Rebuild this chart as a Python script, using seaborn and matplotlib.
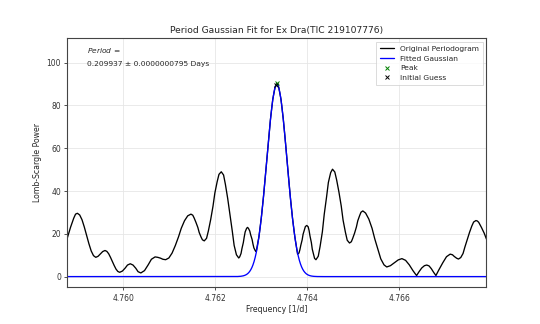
import numpy as np
import pandas as pd
import matplotlib
matplotlib.use("Agg")
import matplotlib.pyplot as plt
import seaborn as sns

# ---- data ----
freq = [
    4.75878, 4.75885, 4.75892, 4.75900, 4.75910, 4.75920, 4.75930, 4.75940,
    4.75945, 4.75950, 4.75955, 4.75960, 4.75968, 4.75976, 4.75984, 4.75992,
    4.75998, 4.76004, 4.76009, 4.76015, 4.76021, 4.76027, 4.76032, 4.76038,
    4.76046, 4.76054, 4.76061, 4.76069, 4.76075, 4.76081, 4.76086, 4.76092,
    4.76106, 4.76120, 4.76133, 4.76147, 4.76154, 4.76162, 4.76169, 4.76176,
    4.76185, 4.76195, 4.76204, 4.76213, 4.76222, 4.76232, 4.76241, 4.76251,
    4.76256, 4.76261, 4.76265, 4.76270, 4.76275, 4.76280, 4.76284, 4.76289,
    4.76295, 4.76300, 4.76305, 4.76310, 4.76315, 4.76320, 4.76325, 4.76330,
    4.76334, 4.76338, 4.76343, 4.76348, 4.76353, 4.76358, 4.76363, 4.76368,
    4.76373, 4.76379, 4.76384, 4.76389, 4.76394, 4.76399, 4.76404, 4.76409,
    4.76414, 4.76419, 4.76428, 4.76437, 4.76446, 4.76455, 4.76464, 4.76474,
    4.76483, 4.76492, 4.76499, 4.76507, 4.76514, 4.76521, 4.76534, 4.76547,
    4.76560, 4.76573, 4.76581, 4.76590, 4.76598, 4.76606, 4.76614, 4.76622,
    4.76630, 4.76635, 4.76638, 4.76643, 4.76649, 4.76655, 4.76660, 4.76665,
    4.76670, 4.76675, 4.76680, 4.76686, 4.76695, 4.76703, 4.76711, 4.76716,
    4.76720, 4.76725, 4.76729, 4.76739, 4.76748, 4.76758, 4.76767, 4.76773,
    4.76779, 4.76785, 4.76790,
]
power = [
    18.0, 23.0, 27.3, 29.6, 26.6, 19.3, 12.0, 9.0,
    9.5, 10.6, 11.7, 12.2, 10.7, 7.1, 3.5, 2.0,
    2.6, 4.0, 5.4, 6.0, 5.4, 3.9, 2.3, 1.7,
    2.8, 5.5, 8.1, 9.2, 9.0, 8.6, 8.1, 7.9,
    11.0, 18.6, 26.1, 29.2, 27.4, 23.0, 18.5, 16.7,
    21.4, 32.9, 44.3, 49.0, 43.1, 28.9, 14.6, 8.7,
    10.8, 15.9, 20.9, 23.0, 21.3, 17.4, 13.4, 11.7,
    18.7, 27.3, 37.7, 49.7, 62.0, 73.5, 82.8, 88.5,
    90.3, 88.5, 82.8, 73.5, 62.0, 49.7, 37.7, 27.3,
    18.7, 10.5, 12.5, 17.2, 21.9, 23.9, 21.6, 15.9,
    10.2, 7.9, 14.1, 29.1, 44.0, 50.2, 45.2, 33.0,
    20.8, 15.7, 17.9, 23.2, 28.5, 30.7, 26.9, 17.6,
    8.3, 4.5, 5.1, 6.5, 7.8, 8.4, 7.6, 5.5,
    2.8, 1.3, 0.5, 2.2, 4.0, 5.1, 5.4, 5.0,
    3.7, 2.0, 0.5, 3.0, 6.5, 9.3, 10.5, 10.2,
    9.4, 8.6, 8.2, 10.8, 17.2, 23.6, 26.2, 25.4,
    23.0, 20.3, 17.5,
]
# additional points read along the larger swings of the periodogram
freq_extra = [
    4.75896, 4.75905, 4.75915, 4.75925, 4.75935,
    4.75964, 4.75972, 4.75980, 4.75988,
    4.76099, 4.76113, 4.76126, 4.76140,
    4.76151, 4.76158, 4.76165, 4.76172,
    4.76181, 4.76190, 4.76199, 4.76208,
    4.76218, 4.76227, 4.76237, 4.76246,
    4.76253, 4.76258, 4.76263, 4.76268,
    4.76272, 4.76277, 4.76282, 4.76287,
    4.76332, 4.76336,
    4.76382, 4.76386, 4.76391, 4.76396,
    4.76402, 4.76406, 4.76411, 4.76416,
    4.76424, 4.76433, 4.76442, 4.76451,
    4.76460, 4.76469, 4.76478, 4.76487,
    4.76496, 4.76503, 4.76510, 4.76517,
    4.76527, 4.76541, 4.76554, 4.76567,
    4.76734, 4.76743, 4.76753, 4.76762,
    4.76770,
]
power_extra = [
    29.2, 28.8, 23.2, 15.4, 9.8,
    11.8, 9.0, 5.2, 2.4,
    8.7, 14.5, 22.6, 28.4,
    28.7, 25.3, 20.6, 17.2,
    17.9, 26.7, 39.0, 47.8,
    47.5, 36.5, 21.2, 10.2,
    9.2, 13.1, 18.6, 22.5,
    22.6, 19.5, 15.2, 12.1,
    89.8, 89.8,
    11.0, 14.6, 19.8, 23.4,
    23.3, 19.0, 12.8, 8.5,
    9.5, 21.0, 37.1, 48.6,
    48.9, 39.5, 26.4, 17.0,
    16.3, 20.3, 26.1, 30.1,
    29.7, 22.6, 12.6, 5.5,
    8.9, 13.8, 20.6, 25.5,
    26.0,
]

# fitted Gaussian parameters
amp = 89.8
mu = 4.76334
sigma = 0.00022

peak_freq = [4.763335]
peak_power = [90.6]
guess_freq = [4.76333]
guess_power = [89.6]

period_text = "0.209937 ± 0.0000000795 Days"

# ---- plot ----
sns.set_style("ticks")
plt.rcParams['font.family'] = ['DejaVu Sans']

fig = plt.figure(figsize=(5.4, 3.24), dpi=100)
ax = fig.add_axes([0.1246, 0.1133, 0.9009 - 0.1246, 0.8818 - 0.1133])

df = pd.DataFrame({"f": freq + freq_extra, "p": power + power_extra})
df = df.sort_values("f")
sns.lineplot(data=df, x="f", y="p", ax=ax, color="black", lw=0.95,
             label="Original Periodogram", sort=True, estimator=None)

fgrid = np.linspace(min(freq), max(freq), 1500)
gfit = amp * np.exp(-0.5 * ((fgrid - mu) / sigma) ** 2)
sns.lineplot(x=fgrid, y=gfit, ax=ax, color="blue", lw=0.95,
             label="Fitted Gaussian", estimator=None)

ax.plot(peak_freq, peak_power, "x", color="green", ms=3.2, mew=0.7, label="Peak")
ax.plot(guess_freq, guess_power, "x", color="black", ms=3.2, mew=0.7,
        label="Initial Guess")

ax.set_xlim(min(freq), max(freq))
ax.set_ylim(-5, 111.4)
ax.set_xticks([4.760, 4.762, 4.764, 4.766])
ax.set_xticklabels(["4.760", "4.762", "4.764", "4.766"])
ax.set_yticks([0, 20, 40, 60, 80, 100])
ax.tick_params(labelsize=5.5, length=2.5, width=0.6, colors="#333333", pad=2)
ax.grid(True, color="#e6e6e6", lw=0.6)
for s in ax.spines.values():
    s.set_linewidth(0.8)
    s.set_color("#444444")
    s.set_visible(True)

ax.set_xlabel("Frequency [1/d]", fontsize=5.6, labelpad=2)
ax.set_ylabel("Lomb-Scargle Power", fontsize=5.6, labelpad=3)
ax.set_title("Period Gaussian Fit for Ex Dra(TIC 219107776)", fontsize=6.6, pad=4)

ax.text(0.047, 0.97, "$\\it{Period}$ =", transform=ax.transAxes,
        fontsize=5.4, va="top", ha="left")
ax.text(0.047, 0.91, period_text, transform=ax.transAxes,
        fontsize=5.4, va="top", ha="left")

leg = ax.legend(loc="upper right", fontsize=5.4, frameon=True,
                handlelength=1.9, borderpad=0.5, labelspacing=0.45,
                fancybox=False)
leg.get_frame().set_edgecolor("#cccccc")
leg.get_frame().set_linewidth(0.6)

fig.savefig("out.png", dpi=100)
